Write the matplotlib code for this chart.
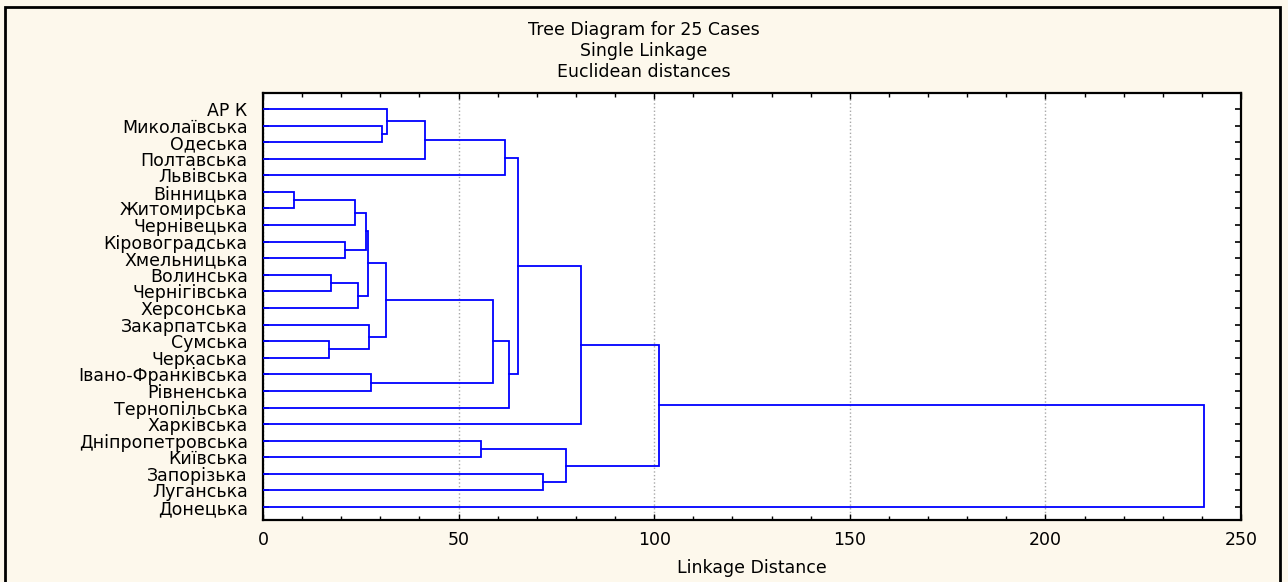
import matplotlib
matplotlib.use("Agg")
import matplotlib.pyplot as plt
from matplotlib.patches import Rectangle

# leaves, top to bottom
regions = ["АР К", "Миколаївська", "Одеська", "Полтавська", "Львівська",
           "Вінницька", "Житомирська", "Чернівецька", "Кіровоградська",
           "Хмельницька", "Волинська", "Чернігівська", "Херсонська",
           "Закарпатська", "Сумська", "Черкаська", "Івано-Франківська",
           "Рівненська", "Тернопільська", "Харківська", "Дніпропетровська",
           "Київська", "Запорізька", "Луганська", "Донецька"]

# merges: (left, right, linkage distance); ints < 25 are leaves,
# ints >= 25 refer to earlier merges (25 = first merge in this list)
merges = [
    (1, 2, 30.5),     # 25
    (0, 25, 31.8),    # 26
    (26, 3, 41.3),    # 27
    (27, 4, 61.8),    # 28
    (5, 6, 7.85),     # 29
    (29, 7, 23.4),    # 30
    (8, 9, 21.0),     # 31
    (30, 31, 26.4),   # 32
    (10, 11, 17.5),   # 33
    (33, 12, 24.3),   # 34
    (32, 34, 26.9),   # 35
    (14, 15, 16.9),   # 36
    (13, 36, 27.0),   # 37
    (35, 37, 31.5),   # 38
    (16, 17, 27.7),   # 39
    (38, 39, 58.8),   # 40
    (40, 18, 62.8),   # 41
    (28, 41, 65.2),   # 42
    (42, 19, 81.2),   # 43
    (20, 21, 55.8),   # 44
    (22, 23, 71.7),   # 45
    (44, 45, 77.5),   # 46
    (43, 46, 101.1),  # 47
    (47, 24, 240.5),  # 48
]

n = len(regions)
pos = {i: float(i) for i in range(n)}
hgt = {i: 0.0 for i in range(n)}

fig = plt.figure(figsize=(12.88, 5.82), dpi=100, facecolor="#fdf8ec")
ax = fig.add_axes([263 / 1288, 1 - 520 / 582, (1241 - 263) / 1288, (520 - 93) / 582])
ax.set_facecolor("white")

for k, (a, b, d) in enumerate(merges):
    node = n + k
    ax.plot([hgt[a], d, d, hgt[b]], [pos[a], pos[a], pos[b], pos[b]],
            color="#0000ff", lw=1.3, solid_joinstyle="miter", zorder=3)
    pos[node] = (pos[a] + pos[b]) / 2
    hgt[node] = d

ax.set_xlim(0, 250)
ax.set_ylim(24.78, -0.96)
ax.set_xticks(range(0, 251, 50))
ax.set_xticks(range(0, 251, 10), minor=True)
ax.set_yticks(range(n))
ax.set_yticklabels(regions)
ax.grid(axis="x", which="major", color="#a8a8a8", linestyle=":", lw=1.0)

fs = 12.5
tfont = dict(family="DejaVu Sans", fontsize=fs)
for lab in ax.get_yticklabels() + ax.get_xticklabels():
    lab.set_fontfamily("DejaVu Sans")
    lab.set_fontsize(fs)
ax.tick_params(axis="y", direction="in", left=True, right=True, length=4,
               width=1.2, pad=11)
ax.tick_params(axis="x", which="both", direction="in", top=True, bottom=True,
               width=1.0, pad=8)
ax.tick_params(axis="x", which="major", length=4)
ax.tick_params(axis="x", which="minor", length=3)
for sp in ax.spines.values():
    sp.set_linewidth(1.6)
    sp.set_color("black")

ax.set_xlabel("Linkage Distance", labelpad=7, **tfont)

titles = ["Tree Diagram for 25 Cases", "Single Linkage", "Euclidean distances"]
for yy, t in zip([30, 51, 72], titles):
    fig.text(644 / 1288, 1 - yy / 582, t, ha="center", va="center", **tfont)

fig.patches.append(Rectangle((5 / 1288, -0.05), (1280 - 5) / 1288, 1.05 - 7 / 582,
                             transform=fig.transFigure, fill=False,
                             edgecolor="black", lw=2))

fig.savefig("out.png", dpi=100, facecolor=fig.get_facecolor())
